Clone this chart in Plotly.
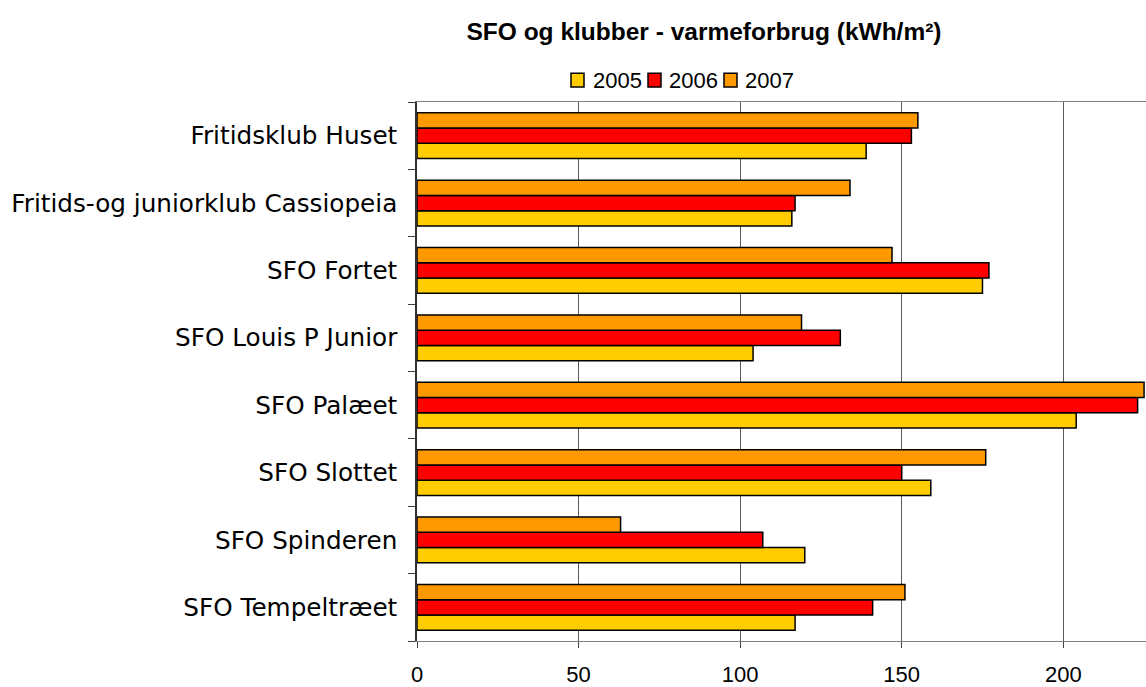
import plotly.graph_objects as go

categories = ["Fritidsklub Huset", "Fritids-og juniorklub Cassiopeia", "SFO Fortet",
              "SFO Louis P Junior", "SFO Palæet", "SFO Slottet", "SFO Spinderen",
              "SFO Tempeltræet"]
years = ["2005", "2006", "2007"]
v2005 = [139, 116, 175, 104, 204, 159, 120, 117]
v2006 = [153, 117, 177, 131, 223, 150, 107, 141]
v2007 = [155, 134, 147, 119, 225, 176, 63, 151]
colors = ["#FFCC00", "#FF0000", "#FF9900"]
x_ticks = [0, 50, 100, 150, 200]

W, H = 1146, 687
L, R, T, B = 417, 0, 102, 42
PW, PH = W - L - R, H - T - B


def px(xp):  # page x -> paper fraction
    return (xp - L) / PW


def py(yp):  # page y -> paper fraction
    return (H - B - yp) / PH


fig = go.Figure()
for name, vals, col in zip(years, [v2005, v2006, v2007], colors):
    fig.add_trace(go.Bar(
        y=categories, x=vals, name=name, orientation="h", showlegend=False,
        marker=dict(color=col, line=dict(color="#000000", width=1.5)),
    ))

# custom legend (square + label) to match the compact original layout
leg_sq_x = [571, 648, 724]
leg_tx_x = [591, 667, 743]
for name, col, sx, tx in zip(years, colors, leg_sq_x, leg_tx_x):
    fig.add_shape(type="rect", xref="paper", yref="paper",
                  x0=px(sx), x1=px(sx + 13), y0=py(87), y1=py(73),
                  fillcolor=col, line=dict(color="#000", width=1.5), layer="above")
    fig.add_annotation(text=name, xref="paper", yref="paper",
                       x=px(tx), y=py(80.5), xanchor="left", yanchor="middle",
                       showarrow=False,
                       font=dict(size=22, family="Liberation Sans, Arial", color="#000"))

fig.update_layout(
    width=W, height=H,
    margin=dict(l=L, r=R, t=T, b=B),
    paper_bgcolor="white", plot_bgcolor="white",
    barmode="group", bargap=0.32, bargroupgap=0,
    font=dict(family="Liberation Sans, Arial", color="#000000"),
    title=dict(text="<b>SFO og klubber - varmeforbrug (kWh/m²)</b>",
               x=704 / W, xanchor="center", xref="container",
               y=1 - 31 / H, yanchor="middle", yref="container",
               font=dict(size=24.5, family="Liberation Sans, Arial", color="#000")),
    showlegend=False,
)

fig.update_xaxes(
    range=[0, 225.6], tickvals=x_ticks, ticktext=[str(t) for t in x_ticks],
    showgrid=True, gridcolor="#5a5a5a", gridwidth=1,
    showline=True, linecolor="#808080", linewidth=1, mirror=True,
    ticks="outside", ticklen=6, tickcolor="#404040",
    tickfont=dict(size=22, family="Liberation Sans, Arial", color="#000"),
    ticklabelstandoff=8,
    zeroline=False, fixedrange=True,
)
fig.update_yaxes(
    type="category", categoryorder="array", categoryarray=categories[::-1],
    showgrid=False, showline=True, linecolor="#303030", linewidth=1.5,
    ticks="outside", ticklen=7, tickcolor="#404040", tickson="boundaries",
    tickfont=dict(size=24.7, family="DejaVu Sans, Verdana", color="#000"),
    ticklabelstandoff=13,
    fixedrange=True,
)

fig.write_html(
    "out.html",
    config={"displayModeBar": False},
    post_script="document.body.style.margin='0';"
                "document.body.style.overflow='hidden';"
                "document.documentElement.style.overflow='hidden';",
)
